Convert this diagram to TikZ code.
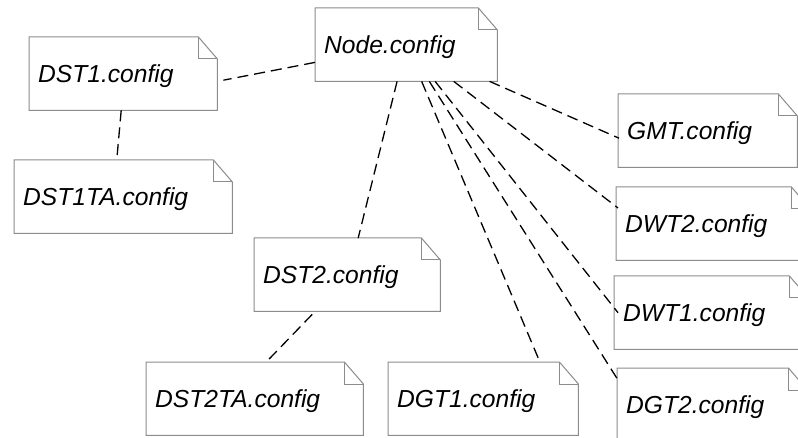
\documentclass[tikz,border=0pt]{standalone}
\usepackage{fontspec}
\setmainfont{Liberation Sans}
\usetikzlibrary{calc}
\tikzset{
	notebox/.style={
			anchor=north west, draw=none, fill=white,
			minimum height=73pt, inner xsep=9pt, inner ysep=0pt,
			text depth=0pt, align=left,
			font=\fontsize{24.6}{28}\selectfont\itshape
		},
	outline/.style={draw=black!45, line width=1pt},
	link/.style={dash pattern=on 11pt off 6pt, line width=1.3pt, black}
}

\begin{document}
\begin{tikzpicture}[x=1pt, y=-1pt]
		\def\foldw{19} % Width of the folded corner
		\def\foldh{22} % Height of the folded corner
		\useasboundingbox (0,0) rectangle (798,438);
		\clip (0,0) rectangle (798,438);

		% Draw the notes
		\foreach \nm/\x/\y/\w/\txt in {
				Node/315/8/182/Node.config,
				DST1/29/37/188/DST1.config,
				DST1TA/14/160/218/DST1TA.config,
				DST2/254/238/186/DST2.config,
				DST2TA/146/362/217/DST2TA.config,
				DGT1/388/362/190/DGT1.config,
				GMT/618/94/179/GMT.config,
				DWT2/616/187/194/DWT2.config,
				DWT1/614/276/194/DWT1.config,
				DGT2/617/368/190/DGT2.config
			} {
				\pgfmathsetmacro\tw{\w-18}
				\node[notebox, text width=\tw pt] (\nm) at (\x,\y) {\txt};
				\draw[outline] (\nm.south west) -- (\nm.north west) -- ([shift={(-\foldw,0)}]\nm.north east)
				-- ([shift={(0,\foldh)}]\nm.north east) -- (\nm.south east) -- cycle;
				\draw[outline] ([shift={(-\foldw,0)}]\nm.north east) |- ([shift={(0,\foldh)}]\nm.north east);
			}

		% Draw the links
		\draw[link] (Node) -- ([shift={(6,6.5)}]DST1.east);
		\draw[link] ([shift={(-2,0)}]DST1.south) -- ([shift={(-6,-5)}]DST1TA.north);
		\draw[link] (Node) -- ([shift={(11,0)}]DST2.north);
		\draw[link] ([shift={(-35,3)}]DST2.south) -- ([shift={(13.5,-2)}]DST2TA.north);
		\draw[link] (Node) -- ([shift={(55,-4)}]DGT1.north);
		\draw[link] (Node) -- ([shift={(1,12)}]DGT2.north west);
		\draw[link] (Node) -- ([shift={(4,0)}]DWT1.west);
		\draw[link] (Node) -- ([shift={(2,21)}]DWT2.north west);
		\draw[link] (Node) -- ([shift={(1,7.5)}]GMT.west);
	\end{tikzpicture}
\end{document}
